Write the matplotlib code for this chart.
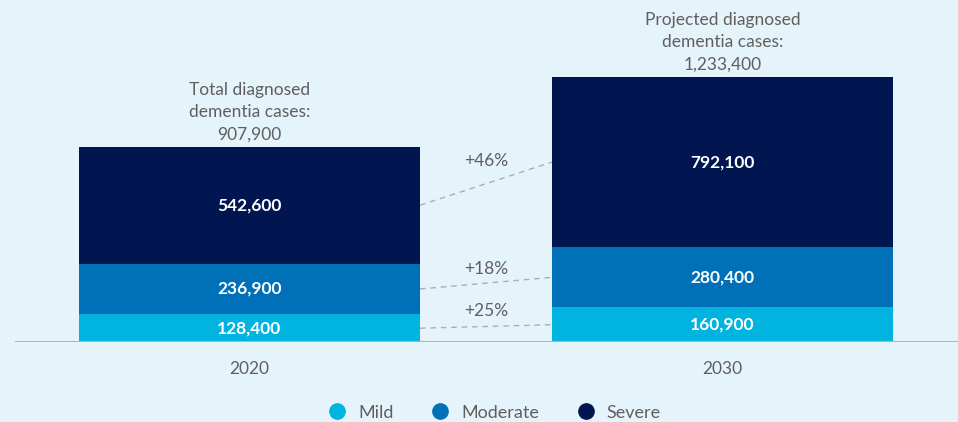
import matplotlib.pyplot as plt
from matplotlib.lines import Line2D
import numpy as np

years = ["2020", "2030"]
mild = [128400, 160900]
moderate = [236900, 280400]
severe = [542600, 792100]
totals = [907900, 1233400]
changes = {"Mild": "+25%", "Moderate": "+18%", "Severe": "+46%"}
total_titles = ["Total diagnosed\ndementia cases:\n907,900",
                "Projected diagnosed\ndementia cases:\n1,233,400"]

colors = {"Mild": "#00B4DF", "Moderate": "#0070B9", "Severe": "#011651"}
bg = "#E5F4FA"
txt = "#5F5F5F"
font = "Lato"

fig = plt.figure(figsize=(9.58, 4.22), dpi=100, facecolor=bg)
ax = fig.add_axes([15/958, 80/422, 943/958, 342/422])
ax.set_facecolor(bg)
x = np.arange(len(years))
width = 0.721
series = [("Mild", mild), ("Moderate", moderate), ("Severe", severe)]
bottom = np.zeros(len(years))
mids = {}
for name, vals in series:
    vals = np.array(vals, dtype=float)
    ax.bar(x, vals, width, bottom=bottom, color=colors[name], linewidth=0)
    m = bottom + vals / 2
    mids[name] = m
    for xi, mi, v in zip(x, m, vals):
        ax.text(xi, mi, f"{int(v):,}", ha="center", va="center", color="white",
                fontsize=12.5, fontweight="bold", family=font)
    bottom = bottom + vals

ax.set_xlim(-0.4958, 1.498)
ax.set_ylim(0, 1592000)

for xi, t, s in zip(x, totals, total_titles):
    ax.annotate(s, (xi, t), xytext=(0, 3), textcoords="offset points",
                ha="center", va="bottom", fontsize=12.5, color=txt,
                family=font, linespacing=1.5)

x0 = x[0] + width / 2
x1 = x[1] - width / 2
offs = {"Mild": 11, "Moderate": 10, "Severe": 16}
for name, vals in series:
    m = mids[name]
    ax.plot([x0, x1], [m[0], m[1]], ls=(0, (4, 3.5)), color="#A9AEB5", lw=1)
    ax.annotate(changes[name], ((x0 + x1) / 2, (m[0] + m[1]) / 2),
                xytext=(0, offs[name]), textcoords="offset points",
                ha="center", va="center", fontsize=12.5, color=txt,
                family=font)

ax.axhline(0, color="#AEB4BB", lw=1.5)
for sp in ax.spines.values():
    sp.set_visible(False)
ax.set_yticks([])
ax.set_xticks(x)
ax.set_xticklabels(years, fontsize=12.5, color=txt, family=font)
ax.tick_params(axis="x", length=0, pad=14)

handles = [Line2D([], [], marker="o", ls="", markersize=11, color=colors[n],
                  label=n) for n, _ in series]
leg = fig.legend(handles=handles, loc="lower center", ncol=3,
                 bbox_to_anchor=(490/958, -0.035), frameon=False,
                 handletextpad=0.15, columnspacing=1.6,
                 prop={"family": font, "size": 13})
for t in leg.get_texts():
    t.set_color(txt)

fig.savefig("out.png", dpi=100, facecolor=bg)
